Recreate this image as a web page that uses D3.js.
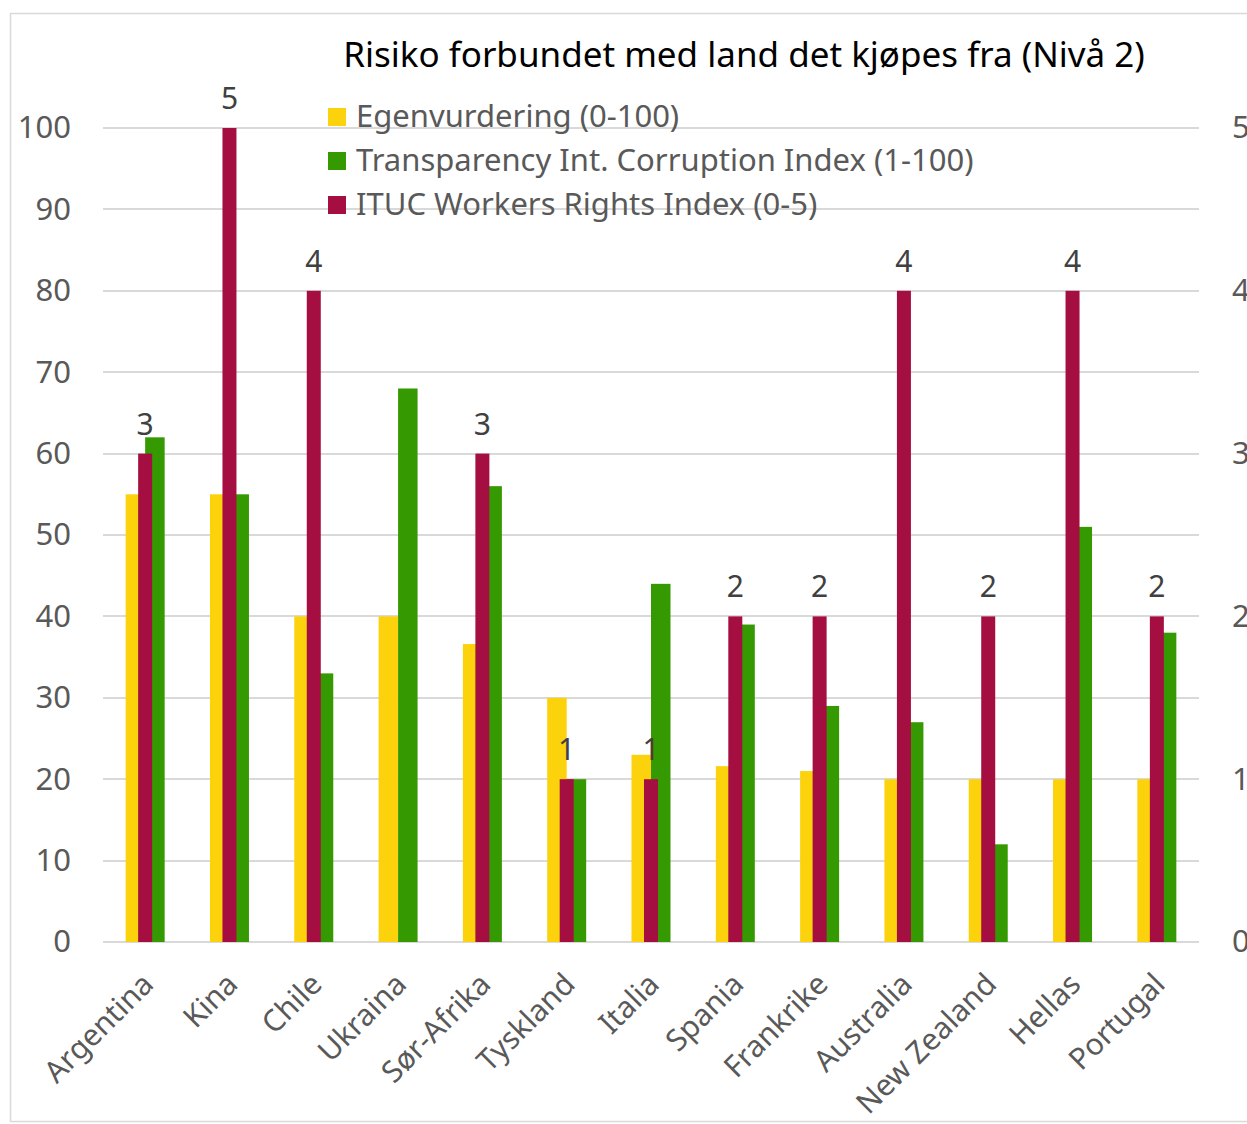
<!DOCTYPE html>
<html><head><meta charset="utf-8">
<script src="https://cdn.jsdelivr.net/npm/d3@7"></script>
<style>
body{margin:0;background:#fff;}
svg{display:block;}
text{font-family:"Noto Sans","Open Sans",sans-serif;}
</style></head>
<body>
<svg id="c" width="1247" height="1124"></svg>
<script>
const categories = ["Argentina","Kina","Chile","Ukraina","Sør-Afrika","Tyskland","Italia","Spania","Frankrike","Australia","New Zealand","Hellas","Portugal"];
const egenvurdering = [55,55,40,40,36.6,30,23,21.6,21,20,20,20,20];
const transparency = [62,55,33,68,56,20,44,39,29,27,12,51,38];
const ituc = [3,5,4,null,3,1,1,2,2,4,2,4,2];
const leftTicks = [0,10,20,30,40,50,60,70,80,90,100];
const rightTicks = [0,1,2,3,4,5];
const seriesNames = ["Egenvurdering (0-100)","Transparency Int. Corruption Index (1-100)","ITUC Workers Rights Index (0-5)"];
const colors = {egen:"#FBD20C", trans:"#359A01", ituc:"#A50E40"};

const svg = d3.select("#c");
const plot = {left:103,right:1199,top:128,bottom:942};

// frame
svg.append("rect").attr("x",10.5).attr("y",13.5).attr("width",1300).attr("height",1108)
  .attr("fill","none").attr("stroke","#D9D9D9").attr("stroke-width",1.5);

const x = d3.scaleBand().domain(categories).range([plot.left,plot.right]).padding(0);
const y = d3.scaleLinear().domain([0,100]).range([plot.bottom,plot.top]);
const y2 = d3.scaleLinear().domain([0,5]).range([plot.bottom,plot.top]);
const primW = 19.5, redW = 14;
const inner = d3.scaleBand().domain(["egen","trans"]).range([-primW,primW]);

// gridlines
svg.append("g").selectAll("line").data(leftTicks).join("line")
  .attr("x1",plot.left).attr("x2",plot.right)
  .attr("y1",d=>Math.round(y(d))).attr("y2",d=>Math.round(y(d)))
  .attr("stroke","#D9D9D9").attr("stroke-width",2);

// left axis
const la = svg.append("g").attr("transform",`translate(71,0)`)
  .call(d3.axisLeft(y).tickValues(leftTicks).tickSize(0).tickPadding(0));
la.select(".domain").remove();
la.selectAll("text").attr("font-size",31).attr("fill","#595959").attr("font-family","Noto Sans");

// right axis
const ra = svg.append("g").attr("transform",`translate(1232,0)`)
  .call(d3.axisRight(y2).tickValues(rightTicks).tickSize(0).tickPadding(0));
ra.select(".domain").remove();
ra.selectAll("text").attr("font-size",31).attr("fill","#595959").attr("font-family","Noto Sans");

// bars
const g = svg.append("g");
g.selectAll("rect.egen").data(categories).join("rect").attr("class","egen")
  .attr("x",(d)=>x(d)+x.bandwidth()/2+inner("egen"))
  .attr("width",inner.bandwidth())
  .attr("y",(d,i)=>y(egenvurdering[i])).attr("height",(d,i)=>y(0)-y(egenvurdering[i]))
  .attr("fill",colors.egen);
g.selectAll("rect.trans").data(categories).join("rect").attr("class","trans")
  .attr("x",(d)=>x(d)+x.bandwidth()/2+inner("trans"))
  .attr("width",inner.bandwidth())
  .attr("y",(d,i)=>y(transparency[i])).attr("height",(d,i)=>y(0)-y(transparency[i]))
  .attr("fill",colors.trans);
const redData = categories.map((c,i)=>({c,v:ituc[i]})).filter(d=>d.v!==null);
g.selectAll("rect.ituc").data(redData).join("rect").attr("class","ituc")
  .attr("x",d=>x(d.c)+x.bandwidth()/2-redW/2)
  .attr("width",redW)
  .attr("y",d=>y2(d.v)).attr("height",d=>y2(0)-y2(d.v))
  .attr("fill",colors.ituc);
g.selectAll("text.lbl").data(redData).join("text").attr("class","lbl")
  .attr("x",d=>x(d.c)+x.bandwidth()/2)
  .attr("y",d=>y2(d.v)-19)
  .attr("text-anchor","middle").attr("font-size",30).attr("fill","#404040")
  .text(d=>d.v);

// x labels
svg.append("g").selectAll("text").data(categories).join("text")
  .attr("transform",d=>`translate(${x(d)+x.bandwidth()/2+10},${986}) rotate(-45)`)
  .attr("text-anchor","end").attr("font-size",30).attr("fill","#595959")
  .text(d=>d);

// title
svg.append("text").attr("x",744).attr("y",67).attr("text-anchor","middle")
  .attr("font-size",35).attr("fill","#000").text("Risiko forbundet med land det kjøpes fra (Nivå 2)");

// legend
const legItems = [{n:seriesNames[0],c:colors.egen},{n:seriesNames[1],c:colors.trans},{n:seriesNames[2],c:colors.ituc}];
const lg = svg.append("g").attr("transform","translate(328,108)");
legItems.forEach((it,i)=>{
  lg.append("rect").attr("x",0).attr("y",i*44).attr("width",18).attr("height",18).attr("fill",it.c);
  lg.append("text").attr("x",28).attr("y",i*44+19).attr("font-size",31).attr("fill","#595959").text(it.n);
});
</script>
</body></html>
